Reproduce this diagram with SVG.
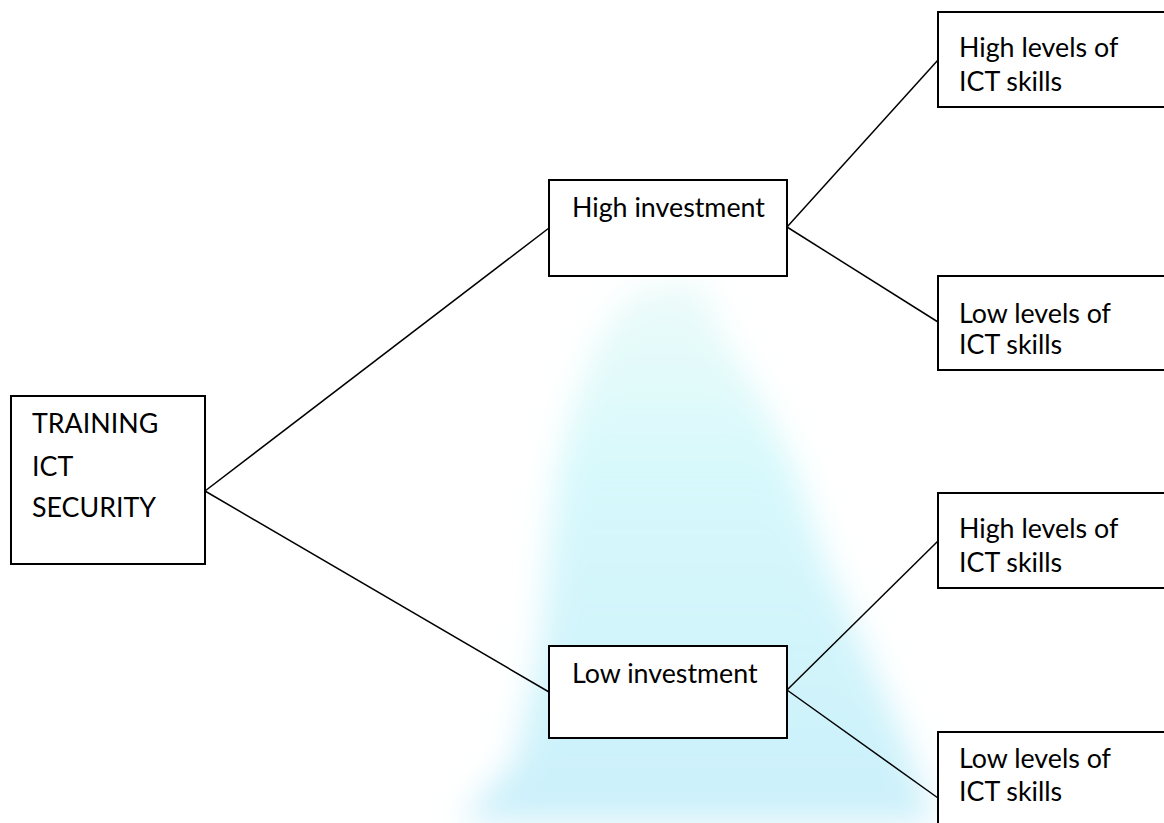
<svg xmlns="http://www.w3.org/2000/svg" width="1164" height="823" viewBox="0 0 1164 823">
<style>
.box{fill:#fff;stroke:#000;stroke-width:2}
.lbl{font-family:Lato,"Liberation Sans",sans-serif;font-size:26.8px;fill:#000}
.conn{stroke:#000;stroke-width:1.5;fill:none}
</style>
<defs>
<filter id="blur" x="-30%" y="-30%" width="160%" height="160%"><feGaussianBlur stdDeviation="16"/></filter>
<linearGradient id="wm" x1="0" y1="0" x2="0" y2="1">
<stop offset="0" stop-color="#d8f7f4" stop-opacity="0.5"/>
<stop offset="0.35" stop-color="#cdf7fb" stop-opacity="0.8"/>
<stop offset="1" stop-color="#c6eefa" stop-opacity="0.9"/>
</linearGradient>
</defs>
<rect width="1164" height="823" fill="#fff"/>
<g id="watermark" filter="url(#blur)">
<path d="M655 285 L705 285 L722 335 L762 400 L795 470 L825 560 L865 650 L905 740 L935 823 L460 823 L515 760 L540 650 L548 560 L558 470 L575 400 L600 335 L630 295 Z" fill="url(#wm)"/>
</g>
<g id="connectors">
<line class="conn" x1="205" y1="491" x2="549" y2="228"/>
<line class="conn" x1="205" y1="491" x2="549" y2="692"/>
<line class="conn" x1="787" y1="227" x2="938" y2="60"/>
<line class="conn" x1="787" y1="227" x2="938" y2="322"/>
<line class="conn" x1="787" y1="690" x2="938" y2="541"/>
<line class="conn" x1="787" y1="690" x2="938" y2="798"/>
</g>
<g id="training">
<rect class="box" x="11" y="396" width="194" height="168"/>
<text class="lbl" x="32" y="433">TRAINING</text>
<text class="lbl" x="32" y="476">ICT</text>
<text class="lbl" x="32" y="517">SECURITY</text>
</g>
<g id="high-investment">
<rect class="box" x="549" y="180" width="238" height="96"/>
<text class="lbl" x="572" y="217">High investment</text>
</g>
<g id="low-investment">
<rect class="box" x="549" y="646" width="238" height="92"/>
<text class="lbl" x="572" y="683">Low investment</text>
</g>
<g id="high-skills-1">
<rect class="box" x="938" y="12" width="240" height="95"/>
<text class="lbl" x="959" y="57">High levels of</text>
<text class="lbl" x="959" y="91">ICT skills</text>
</g>
<g id="low-skills-1">
<rect class="box" x="938" y="276" width="240" height="94"/>
<text class="lbl" x="959" y="323">Low levels of</text>
<text class="lbl" x="959" y="354">ICT skills</text>
</g>
<g id="high-skills-2">
<rect class="box" x="938" y="493" width="240" height="95"/>
<text class="lbl" x="959" y="538">High levels of</text>
<text class="lbl" x="959" y="572">ICT skills</text>
</g>
<g id="low-skills-2">
<rect class="box" x="938" y="732" width="240" height="110"/>
<text class="lbl" x="959" y="768">Low levels of</text>
<text class="lbl" x="959" y="801">ICT skills</text>
</g>
</svg>
